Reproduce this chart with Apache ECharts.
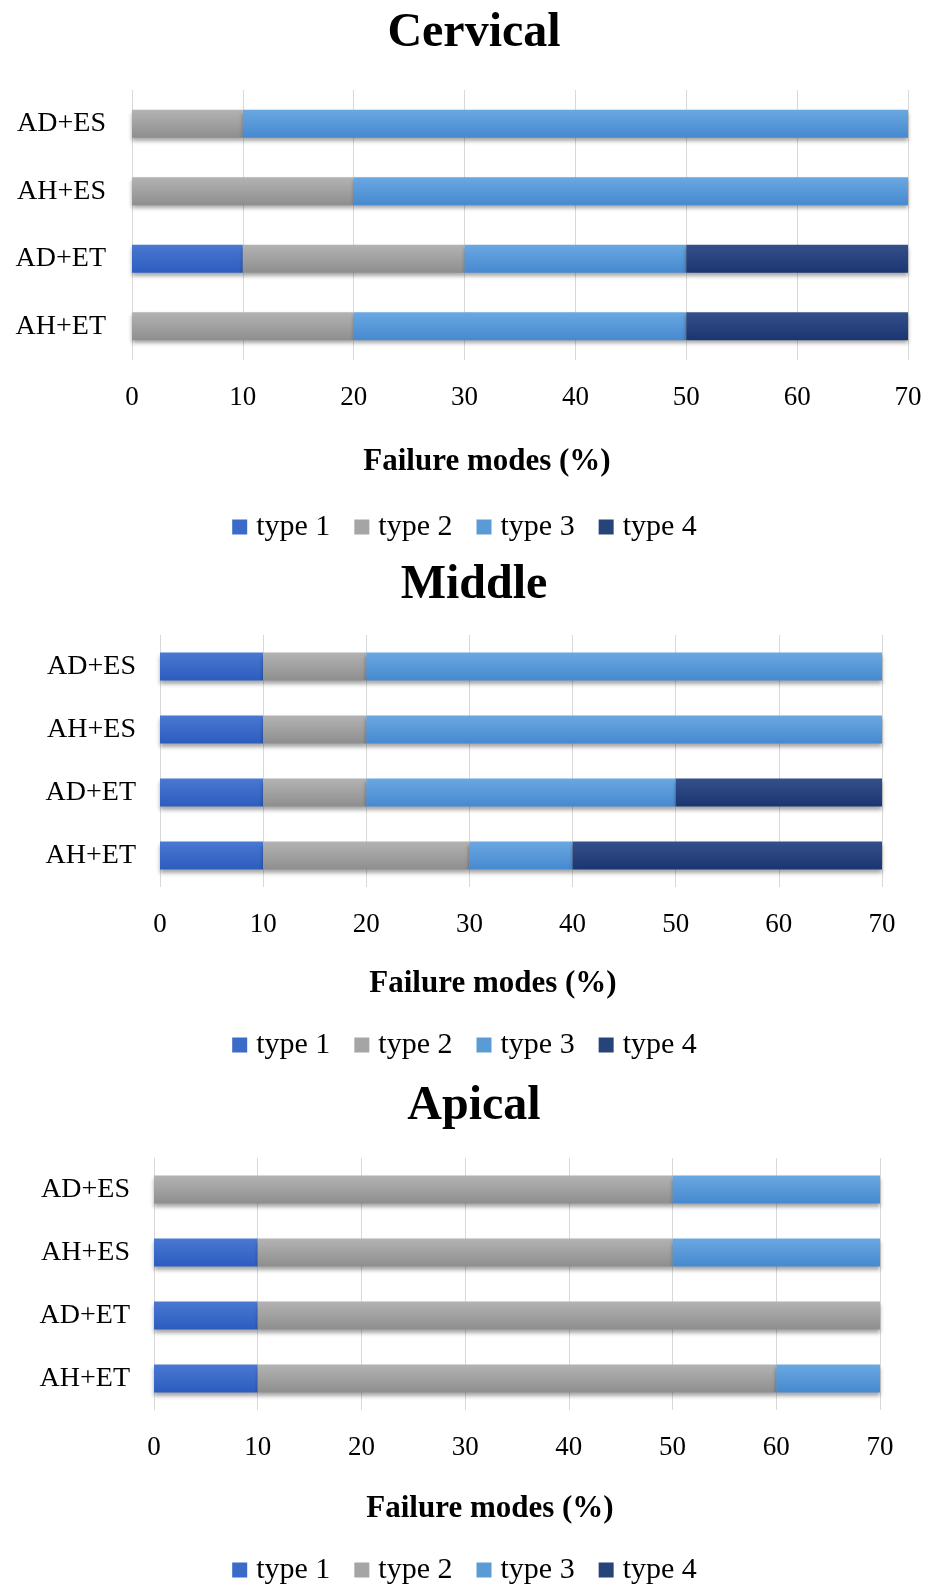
<!DOCTYPE html>
<html>
<head>
<meta charset="utf-8">
<script src="https://cdn.jsdelivr.net/npm/echarts@6/dist/echarts.min.js"></script>
<style>
html,body{margin:0;padding:0;background:#fff;}
#chart{width:929px;height:1587px;}
</style>
</head>
<body>
<div id="chart"></div>
<script>
// ---- data ----
const categories = ['AD+ES', 'AH+ES', 'AD+ET', 'AH+ET'];
const seriesNames = ['type 1', 'type 2', 'type 3', 'type 4'];
const panelTitles = ['Cervical', 'Middle', 'Apical'];
const xTicks = [0, 10, 20, 30, 40, 50, 60, 70];
const axisTitle = 'Failure modes (%)';

const cervicalType1 = [0, 0, 10, 0];
const cervicalType2 = [10, 20, 20, 20];
const cervicalType3 = [60, 50, 20, 30];
const cervicalType4 = [0, 0, 20, 20];

const middleType1 = [10, 10, 10, 10];
const middleType2 = [10, 10, 10, 20];
const middleType3 = [50, 50, 30, 10];
const middleType4 = [0, 0, 20, 30];

const apicalType1 = [0, 10, 10, 10];
const apicalType2 = [50, 40, 60, 50];
const apicalType3 = [20, 20, 0, 10];
const apicalType4 = [0, 0, 0, 0];

const panelData = [
  [cervicalType1, cervicalType2, cervicalType3, cervicalType4],
  [middleType1, middleType2, middleType3, middleType4],
  [apicalType1, apicalType2, apicalType3, apicalType4]
];

// ---- styling ----
const FONT = "'Liberation Serif', 'DejaVu Serif', serif";
const colorStops = [
  ['#4a78d2', '#2c5cbf'],
  ['#b3b3b3', '#8e8e8e'],
  ['#6aa8e2', '#4689cf'],
  ['#34508a', '#1b3570']
];
const legendColors = ['#3a6bc8', '#a5a5a5', '#5b9bd5', '#264478'];

const layout = [
  { titleTop: 10, left: 132, right: 929 - 908, top: 90, height: 270, legendTop: 512, nameGap: 86, nameShift: 33, labelMargin: 26 },
  { titleTop: 562, left: 160, right: 929 - 882, top: 635, height: 252, legendTop: 1030, nameGap: 81, nameShift: 28, labelMargin: 24 },
  { titleTop: 1083, left: 154, right: 929 - 880, top: 1158, height: 252, legendTop: 1555, nameGap: 83, nameShift: 27, labelMargin: 24 }
];

function grad(i) {
  return {
    type: 'linear', x: 0, y: 0, x2: 0, y2: 1,
    colorStops: [{ offset: 0, color: colorStops[i][0] }, { offset: 1, color: colorStops[i][1] }]
  };
}

const option = {
  backgroundColor: '#fff',
  animation: false,
  title: [], legend: [], grid: [], xAxis: [], yAxis: [], series: []
};

layout.forEach((L, p) => {
  option.title.push({
    text: panelTitles[p], left: 474, textAlign: 'center', top: L.titleTop, padding: 0,
    textStyle: { fontFamily: FONT, fontWeight: 'bold', fontSize: 48, color: '#000' }
  });
  option.grid.push({ left: L.left, right: L.right, top: L.top, height: L.height, containLabel: false });
  option.xAxis.push({
    type: 'value', gridIndex: p, min: 0, max: 70, interval: 10,
    name: axisTitle, nameLocation: 'middle', nameGap: L.nameGap,
    nameTextStyle: { fontFamily: FONT, fontWeight: 'bold', fontSize: 31, color: '#000',
      padding: [0, 2 * L.nameShift, 0, 0] },
    axisLine: { show: false }, axisTick: { show: false },
    axisLabel: { fontFamily: FONT, fontSize: 27, color: '#000', margin: 24,
      formatter: v => xTicks.includes(v) ? String(v) : '' },
    splitLine: { show: true, lineStyle: { color: '#d9d9d9', width: 1 } }
  });
  option.yAxis.push({
    type: 'category', gridIndex: p, data: categories, inverse: true,
    axisLine: { show: false }, axisTick: { show: false },
    axisLabel: { fontFamily: FONT, fontSize: 28, color: '#000', margin: L.labelMargin },
    splitLine: { show: false }
  });
  option.legend.push({
    data: seriesNames.map((n, i) => ({ name: n, itemStyle: { color: legendColors[i] } })),
    left: 'center', top: L.legendTop, icon: 'rect',
    itemWidth: 15, itemHeight: 15, itemGap: 24, padding: 0,
    textStyle: { fontFamily: FONT, fontSize: 30, color: '#000', padding: [0, 0, 0, 4] }
  });
  seriesNames.forEach((n, i) => {
    option.series.push({
      name: n, type: 'bar', stack: 'panel' + p,
      xAxisIndex: p, yAxisIndex: p,
      data: panelData[p][i],
      barWidth: 28,
      itemStyle: {
        color: grad(i),
        shadowColor: 'rgba(0,0,0,0.35)', shadowBlur: 4, shadowOffsetY: 3
      },
      emphasis: { disabled: true }
    });
  });
});

const chart = echarts.init(document.getElementById('chart'), null, { renderer: 'canvas' });
chart.setOption(option);
</script>
</body>
</html>
